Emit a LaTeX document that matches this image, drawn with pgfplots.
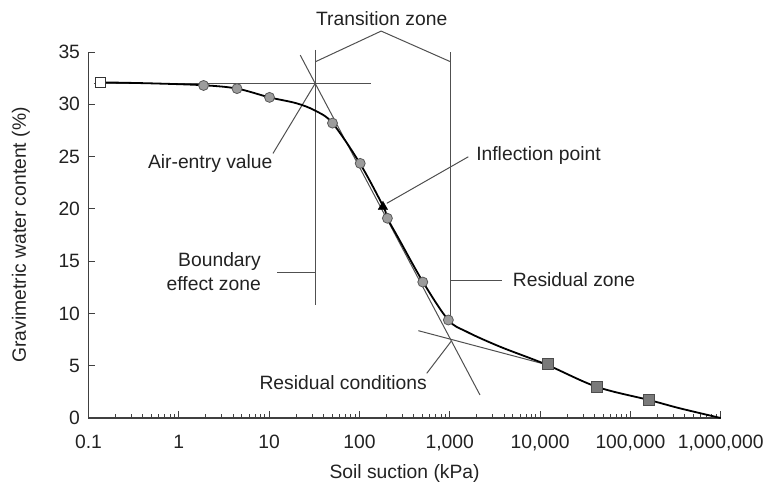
\documentclass[border=0pt]{standalone}
\usepackage{fontspec}
\setmainfont{Liberation Sans}
\usepackage{pgfplots}
\pgfplotsset{compat=1.18}
\definecolor{txt}{HTML}{222222}
\definecolor{cl}{HTML}{505050}
\definecolor{mk}{HTML}{9C9C9C}
\definecolor{sq}{HTML}{7A7A7A}
\begin{document}
\begin{tikzpicture}[font=\fontsize{19.3bp}{22bp}\selectfont, text=txt]
\begin{axis}[
  at={(88.5bp,68bp)}, anchor=south west,
  scale only axis, width=632.2bp, height=366bp,
  xmode=log, log basis x=10,
  xmin=0.1, xmax=1000000, ymin=0, ymax=35,
  axis lines=left, axis line style={-, line width=1.2bp, draw=black!75},
  clip=false,
  xtick={0.1,1,10,100,1000,10000,100000,1000000},
  xticklabels={0.1,1,10,100,{1,000},{10,000},{100,000},{1,000,000}},
  minor xtick={0.2,0.3,0.4,0.5,0.6,0.7,0.8,0.9,2,3,4,5,6,7,8,9,20,30,40,50,60,70,80,90,200,300,400,500,600,700,800,900,2000,3000,4000,5000,6000,7000,8000,9000,20000,30000,40000,50000,60000,70000,80000,90000,200000,300000,400000,500000,600000,700000,800000,900000},
  ytick={0,5,10,15,20,25,30,35},
  tick align=inside, major tick length=7bp, minor tick length=4bp,
  tick style={line width=1bp, black!75},
  /pgf/number format/assume math mode=true,
  xticklabel style={anchor=base, yshift=-30.5bp},
  yticklabel style={anchor=east, xshift=-5bp},
  every axis x label/.style={at={([yshift=-60.8bp]axis description cs:0.5,0)}, anchor=base},
  every axis y label/.style={at={([xshift=-62.7bp]axis description cs:0,0.5)}, rotate=90, anchor=base},
  xlabel={Soil suction (kPa)},
  ylabel={Gravimetric water content (\%)},
]
% construction lines
\addplot[cl, line width=1bp] coordinates {(0.115,32.0) (134,32.0)};
\addplot[cl, line width=1.1bp] coordinates {(32.4,35.2) (32.4,10.8)};
\addplot[cl, line width=1.1bp] coordinates {(1025,35.0) (1025,9.37)};
\addplot[cl, line width=1bp] coordinates {(32.4,34.06) (174,37.0) (1025,34.06)};
\addplot[cl, line width=1bp] coordinates {(22.1,34.7) (2161,2.2)};
\addplot[cl, line width=1bp] coordinates {(449,8.35) (11810,5.1)};
\addplot[cl, line width=1bp] coordinates {(11.03,25.3) (32.4,32.0)};
\addplot[cl, line width=1bp] coordinates {(201,20.53) (1605,24.98)};
\addplot[cl, line width=1bp] coordinates {(12.3,13.89) (32.4,13.89)};
\addplot[cl, line width=1bp] coordinates {(1025,13.19) (3757,13.19)};
\addplot[cl, line width=1bp] coordinates {(556,4.27) (1040,7.35)};
% curve
\addplot[black, line width=1.8bp, smooth, tension=0.55] coordinates {
(0.136,32.1) (0.5,32.0) (1.88,31.82) (4.41,31.5) (10.1,30.66) (20,30.1)
(32.2,29.4) (50.3,28.2) (102,24.3) (184,20.2) (204,19.1)
(270,17.2) (510,12.95) (965,9.37) (1541,8.25) (3600,6.82) (11810,5.1)
(42220,2.99) (161000,1.72) (352000,0.93) (1000000,0)};
% markers
\addplot[only marks, mark=square*, mark size=5bp, mark options={fill=white, draw=black!80, line width=1bp}] coordinates {(0.136,32.1)};
\addplot[only marks, mark=*, mark size=5bp, mark options={fill=mk, draw=black!65, line width=0.8bp}] coordinates {
(1.88,31.8) (4.41,31.5) (10.1,30.66) (50.3,28.2) (102,24.35) (204,19.1) (503,13.0) (965,9.37)};
\addplot[only marks, mark=triangle*, mark size=5.5bp, mark options={fill=black, draw=black}] coordinates {(182,20.2)};
\addplot[only marks, mark=square*, mark size=5.5bp, mark options={fill=sq, draw=black!70, line width=0.8bp}] coordinates {
(12120,5.13) (42220,2.99) (161000,1.72)};
% text
\node[anchor=base] at (axis cs:176.6,37.56) {Transition zone};
\node[anchor=base] at (axis cs:2.227,23.87) {Air-entry value};
\node[anchor=base west] at (axis cs:1798,24.67) {Inflection point};
\node[anchor=base east] at (axis cs:8.85,14.46) {Boundary};
\node[anchor=base east] at (axis cs:8.85,12.24) {effect zone};
\node[anchor=base west] at (axis cs:4571,12.62) {Residual zone};
\node[anchor=base west] at (axis cs:7.16,2.68) {Residual conditions};
\end{axis}
\pgfresetboundingbox
\path[use as bounding box] (0,0) rectangle (766bp,486bp);
\end{tikzpicture}
\end{document}
